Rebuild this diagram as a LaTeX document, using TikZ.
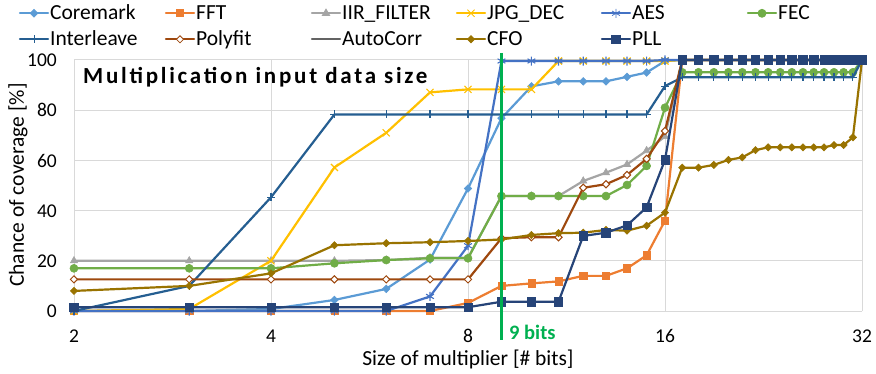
\documentclass[tikz,border=0pt]{standalone}
\usepackage{fontspec}
\setmainfont{Carlito}
\usetikzlibrary{plotmarks}
\definecolor{cCore}{HTML}{5B9BD5}
\definecolor{cFFT}{HTML}{ED7D31}
\definecolor{cIIR}{HTML}{A5A5A5}
\definecolor{cJPG}{HTML}{FFC000}
\definecolor{cAES}{HTML}{4472C4}
\definecolor{cFEC}{HTML}{70AD47}
\definecolor{cInt}{HTML}{255E91}
\definecolor{cPoly}{HTML}{9E480E}
\definecolor{cAuto}{HTML}{636363}
\definecolor{cCFO}{HTML}{997300}
\definecolor{cPLL}{HTML}{264478}
\definecolor{cGrid}{HTML}{D9D9D9}
\definecolor{cNine}{HTML}{00B050}
\def\getfirst#1,#2\relax{#1}
\newcommand\serline[2]{%
  \edef\curlist{#2}%
  \edef\firstv{\expandafter\getfirst\curlist,\relax}%
  \draw[serstyle,#1] (1,\firstv) \foreach \v [count=\i from 2] in \curlist { -- ({ln(\i)/0.693147},\v) };%
}
\newcommand\mkhere[6]{% stroke, fill, mark, size, xscale, lw
  \pgfsetstrokecolor{#1}\pgfsetfillcolor{#2}\pgfsetlinewidth{#6}%
  \pgfsetplotmarksize{#4}\pgftransformxscale{#5}\pgfuseplotmark{#3}}
\newcommand\sermarks[7]{%
  \edef\curlist{#7}%
  \foreach \v [count=\i from 2] in \curlist {%
    \begin{scope}[shift={({ln(\i)/0.693147},\v)}]\mkhere{#1}{#2}{#3}{#4}{#5}{#6}\end{scope}}%
}
\newcommand\legitem[9]{%
  \draw[serstyle,#4] (#2,#3) -- ++(28,0);
  \begin{scope}[shift={(#2+14,#3)}]\mkhere{#4}{#5}{#6}{#7}{#8}{0.8pt}\end{scope}
  \node[legtext] (#1) at (#2+30,#3-6.5) {#9};}
\def\hund{100,100,100,100,100,100,100,100,100,100,100,100,100,100,100,100}
\edef\dCore{0,0,0.8,4.4,8.8,20.5,48.8,76.8,89.5,91.5,91.5,91.5,93.3,95,99.6,\hund}
\edef\dFFT{0,0,0,0,0,0,3.2,10,11,11.8,14,14,17,22.2,36,\hund}
\edef\dIIR{20,20,20,20,20.3,21.2,21.2,45.8,45.8,45.8,51.8,55.1,58.4,63.9,69.5,\hund}
\edef\dJPG{0,0.8,20,57.2,71,87.1,88.3,88.3,88.3,99.6,99.6,99.6,99.6,99.6,99.6,\hund}
\edef\dAES{0,0,0,0,0,5.8,26,99.6,99.6,99.6,99.6,99.6,99.6,99.6,100,\hund}
\edef\dFEC{17,17,17,19,20.3,21,21,45.8,45.8,45.8,45.8,45.8,50.2,57.8,81,95.1,95.1,95.1,95.1,95.1,95.1,95.1,95.1,95.1,95.1,95.1,95.1,95.1,95.1,95.1,100}
\edef\dInt{0,10,45.3,78.3,78.3,78.3,78.3,78.3,78.3,78.3,78.3,78.3,78.3,78.3,89.6,93.1,93.1,93.1,93.1,93.1,93.1,93.1,93.1,93.1,93.1,93.1,93.1,93.1,93.1,93.1,100}
\edef\dPoly{12.6,12.6,12.6,12.6,12.6,12.6,12.6,29,29.4,29.4,49.1,50.5,54.2,60.6,71.7,\hund}
\edef\dCFO{8,10,15,26.2,27,27.4,27.9,28.5,30.3,31,31.2,32.3,32,34,39.2,57.1,57.1,58.2,60.2,61.2,64.1,65.2,65.2,65.2,65.2,65.2,65.2,66.1,66.1,69.2,100}
\edef\dPLL{1.5,1.5,1.5,1.5,1.5,1.5,1.5,3.7,3.7,3.7,29.9,31.2,34.1,41.3,60.2,\hund}
\begin{document}
\begin{tikzpicture}[x=1pt,y=1pt,
  serstyle/.style={line width=2.2pt,line join=round,line cap=round},
  grid/.style={cGrid,line width=1pt},
  tick/.style={font=\fontsize{19.5}{20}\selectfont,inner sep=0},
  legtext/.style={font=\fontsize{21.5}{22}\selectfont,inner sep=0,anchor=base west},
  axtitle/.style={font=\fontsize{21.5}{22}\selectfont,inner sep=0,anchor=base}]
\useasboundingbox (0,0) rectangle (876,373);
% grid
\foreach \v in {0,20,...,100} \draw[grid] (74,{62+2.51*\v}) -- (862,{62+2.51*\v});
\foreach \k in {0,...,4} \draw[grid] ({74+197*\k},62) -- ({74+197*\k},313);
% tick labels
\foreach \v in {0,20,...,100} \node[tick,anchor=base east] (yt\v) at (57,{62+2.51*\v-6.7}) {\v};
\foreach \k/\t in {0/2,1/4,2/8,3/16,4/32} \node[tick,anchor=base] (xt\t) at ({74+197*\k},30.7) {\t};
% axis titles
\node[axtitle] (xtitle) at (468,8) {Size of multiplier [\# bits]};
\node[axtitle,rotate=90] (ytitle) at (24,188) {Chance of coverage [\%]};
% series
\begin{scope}[shift={(-123pt,62pt)},x=197pt,y=2.51pt]
\serline{cCore}{\dCore}\sermarks{cCore}{cCore}{diamond*}{3.8pt}{1.33}{0.6pt}{\dCore}
\serline{cFFT}{\dFFT}\sermarks{cFFT}{cFFT}{square*}{3.6pt}{1}{0.6pt}{\dFFT}
\serline{cIIR}{\dIIR}\sermarks{cIIR}{cIIR}{triangle*}{4.2pt}{1}{0.6pt}{\dIIR}
\serline{cJPG}{\dJPG}\sermarks{cJPG}{cJPG}{x}{5pt}{1}{1.1pt}{\dJPG}
\serline{cAES}{\dAES}\sermarks{cAES}{cAES}{asterisk}{4.5pt}{1}{1.1pt}{\dAES}
\serline{cFEC}{\dFEC}\sermarks{cFEC}{cFEC}{*}{4pt}{1}{0.6pt}{\dFEC}
\serline{cInt}{\dInt}\sermarks{cInt}{cInt}{+}{4pt}{1}{1.1pt}{\dInt}
\serline{cPoly}{\dPoly}\sermarks{cPoly}{white}{diamond*}{3.6pt}{1.33}{1pt}{\dPoly}
\serline{cCFO}{\dCFO}\sermarks{cCFO}{cCFO}{diamond*}{3.6pt}{1.33}{0.6pt}{\dCFO}
\serline{cPLL}{\dPLL}\sermarks{cPLL}{cPLL}{square*}{4.2pt}{1}{0.6pt}{\dPLL}
\end{scope}
% 9 bits marker
\coordinate (g1) at (501.5,320);
\coordinate (g2) at (501.5,33);
\draw[cNine,line width=3.5pt] (g1) -- (g2);
\node[anchor=base west,inner sep=0,text=cNine,font=\fontsize{20.5}{21}\selectfont\bfseries] (nine) at (509,33.7) {9 bits};
% title
\node[anchor=base west,inner sep=0,font=\fontsize{23}{24}\selectfont\bfseries\addfontfeature{LetterSpace=12}] (title) at (83,289.7) {Multiplication input data size};
% legend
\legitem{lCore}{20}{359.7}{cCore}{cCore}{diamond*}{3.8pt}{1.33}{Coremark}
\legitem{lFFT}{166}{359.7}{cFFT}{cFFT}{square*}{3.6pt}{1}{FFT}
\legitem{lIIR}{312}{359.7}{cIIR}{cIIR}{triangle*}{4.2pt}{1}{IIR\_FILTER}
\legitem{lJPG}{457}{359.7}{cJPG}{cJPG}{x}{5pt}{1}{JPG\_DEC}
\legitem{lAES}{602}{359.7}{cAES}{cAES}{asterisk}{4.5pt}{1}{AES}
\legitem{lFEC}{748}{359.7}{cFEC}{cFEC}{*}{4pt}{1}{FEC}
\legitem{lInt}{20}{333.7}{cInt}{cInt}{+}{4pt}{1}{Interleave}
\legitem{lPoly}{166}{333.7}{cPoly}{white}{diamond*}{3.6pt}{1.33}{Polyfit}
\legitem{lAuto}{312}{333.7}{cAuto}{cAuto}{-}{4pt}{1}{AutoCorr}
\legitem{lCFO}{457}{333.7}{cCFO}{cCFO}{diamond*}{3.6pt}{1.33}{CFO}
\legitem{lPLL}{602}{333.7}{cPLL}{cPLL}{square*}{4.2pt}{1}{PLL}
\end{tikzpicture}
\end{document}
